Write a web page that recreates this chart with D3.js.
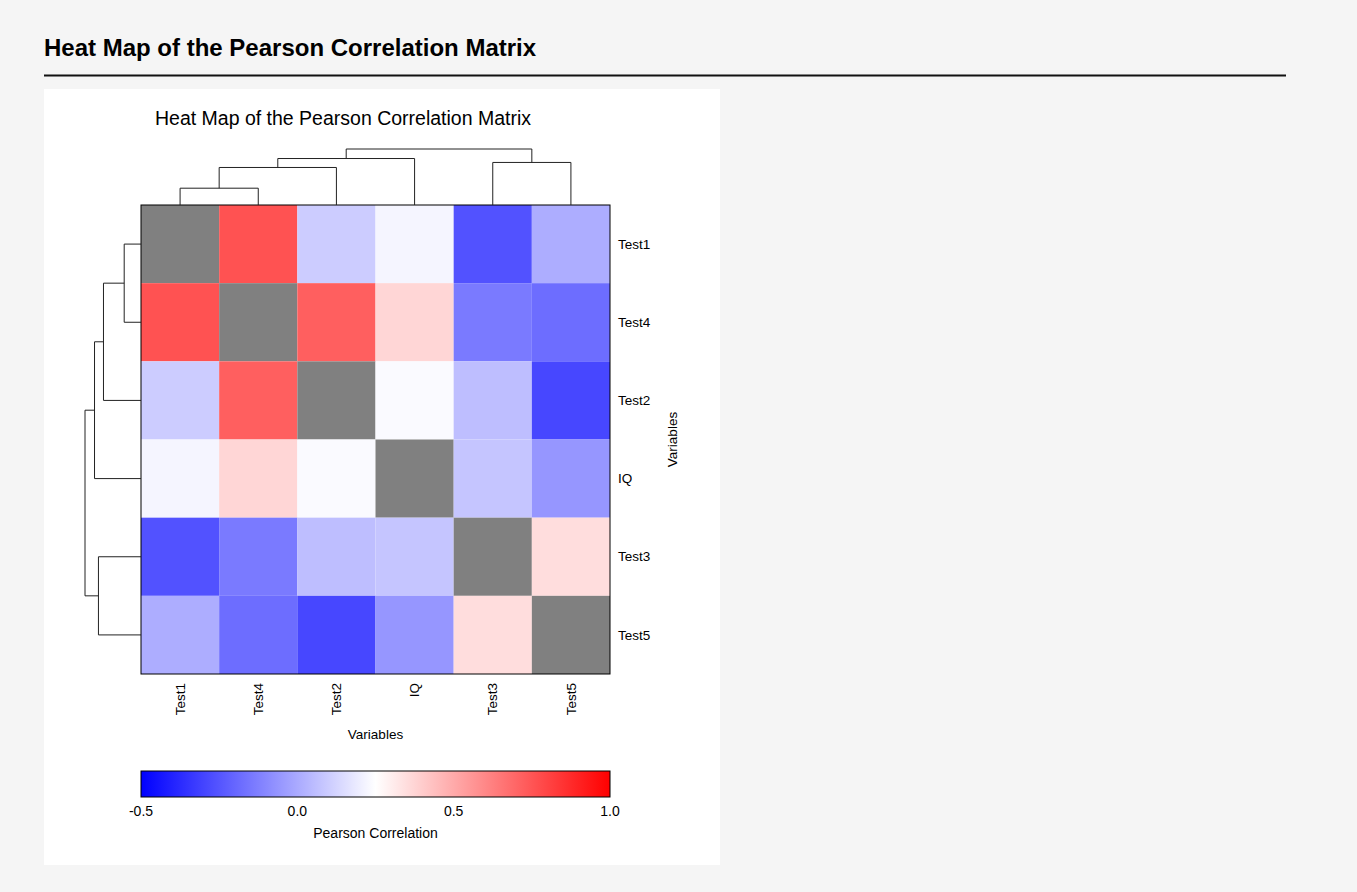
<!DOCTYPE html>
<html>
<head>
<meta charset="utf-8">
<script src="https://cdn.jsdelivr.net/npm/d3@7"></script>
<style>
  html, body { margin: 0; padding: 0; background: #f5f5f5; }
  svg { display: block; font-family: "Liberation Sans", Arial, sans-serif; }
</style>
</head>
<body>
<svg id="chart" width="1357" height="892"></svg>
<script>
// Variables in dendrogram leaf order
const variables = ["Test1", "Test4", "Test2", "IQ", "Test3", "Test5"];

// Pearson correlations (rows / columns follow `variables`); diagonal left empty
const rowTest1 = [null, 0.76, 0.10, 0.22, -0.26, 0.01];
const rowTest4 = [0.76, null, 0.72, 0.37, -0.14, -0.18];
const rowTest2 = [0.10, 0.72, null, 0.235, 0.06, -0.29];
const rowIQ    = [0.22, 0.37, 0.235, null, 0.08, -0.06];
const rowTest3 = [-0.26, -0.14, 0.06, 0.08, null, 0.35];
const rowTest5 = [0.01, -0.18, -0.29, -0.06, 0.35, null];
const correlations = [rowTest1, rowTest4, rowTest2, rowIQ, rowTest3, rowTest5];

// Hierarchical clustering merges: [left, right, name, height]
const merges = [
  ["Test1", "Test4", "c1", 0.30],
  ["c1", "Test2", "c2", 0.67],
  ["c2", "IQ", "c3", 0.83],
  ["Test3", "Test5", "c4", 0.76],
  ["c3", "c4", "root", 1.00]
];

// Colour bar ticks
const colorTicks = [-0.5, 0.0, 0.5, 1.0];

const pageTitle = "Heat Map of the Pearson Correlation Matrix";
const chartTitle = "Heat Map of the Pearson Correlation Matrix";
const axisTitle = "Variables";
const legendTitle = "Pearson Correlation";

const svg = d3.select("#chart");

// Page header
svg.append("text")
  .attr("x", 44).attr("y", 56)
  .attr("font-size", 24).attr("font-weight", "bold").attr("fill", "#000")
  .text(pageTitle);
svg.append("line")
  .attr("x1", 44).attr("x2", 1286).attr("y1", 75.5).attr("y2", 75.5)
  .attr("stroke", "#111").attr("stroke-width", 2);

// White panel
svg.append("rect")
  .attr("x", 44).attr("y", 89).attr("width", 676).attr("height", 776)
  .attr("fill", "#fff");

const hmLeft = 141, hmRight = 610, hmTop = 205, hmBottom = 674;

const x = d3.scaleBand().domain(variables).range([hmLeft, hmRight]);
const y = d3.scaleBand().domain(variables).range([hmTop, hmBottom]);
const color = d3.scaleLinear()
  .domain([-0.5, 0.25, 1.0])
  .range(["#0000ff", "#ffffff", "#ff0000"]);

// Chart title
svg.append("text")
  .attr("x", 343).attr("y", 125)
  .attr("text-anchor", "middle").attr("font-size", 19.5).attr("fill", "#000")
  .text(chartTitle);

// Heat map cells
const cells = [];
correlations.forEach((row, i) => row.forEach((v, j) => cells.push({ r: variables[i], c: variables[j], v })));
svg.append("g").selectAll("rect").data(cells).join("rect")
  .attr("x", d => x(d.c)).attr("y", d => y(d.r))
  .attr("width", x.bandwidth()).attr("height", y.bandwidth())
  .attr("fill", d => d.v === null ? "#808080" : color(d.v));

svg.append("rect")
  .attr("x", hmLeft).attr("y", hmTop).attr("width", hmRight - hmLeft).attr("height", hmBottom - hmTop)
  .attr("fill", "none").attr("stroke", "#000").attr("stroke-width", 1);

// Dendrograms
const topH = d3.scaleLinear().domain([0, 1]).range([hmTop, 149]);
const leftH = d3.scaleLinear().domain([0, 1]).range([hmLeft, 85]);

const nodes = {};
variables.forEach(v => { nodes[v] = { height: 0, leaf: true }; });
merges.forEach(([a, b, name, h]) => { nodes[name] = { a, b, height: h, leaf: false }; });

function center(name, scale) {
  const n = nodes[name];
  if (n.leaf) return scale(name) + scale.bandwidth() / 2;
  return (center(n.a, scale) + center(n.b, scale)) / 2;
}

const topG = svg.append("g").attr("fill", "none").attr("stroke", "#222").attr("stroke-width", 1);
const leftG = svg.append("g").attr("fill", "none").attr("stroke", "#222").attr("stroke-width", 1);

merges.forEach(([a, b, name, h]) => {
  const xa = center(a, x), xb = center(b, x);
  const ya = topH(nodes[a].height), yb = topH(nodes[b].height), ym = topH(h);
  topG.append("path").attr("d", `M${xa},${ya}V${ym}H${xb}V${yb}`);

  const ra = center(a, y), rb = center(b, y);
  const la = leftH(nodes[a].height), lb = leftH(nodes[b].height), lm = leftH(h);
  leftG.append("path").attr("d", `M${la},${ra}H${lm}V${rb}H${lb}`);
});

// Row labels (right)
svg.append("g").selectAll("text").data(variables).join("text")
  .attr("x", 618).attr("y", d => y(d) + y.bandwidth() / 2)
  .attr("dy", "0.35em").attr("font-size", 13.5).attr("fill", "#000")
  .text(d => d);

// Column labels (bottom, rotated)
svg.append("g").selectAll("text").data(variables).join("text")
  .attr("transform", d => `translate(${x(d) + x.bandwidth() / 2},683) rotate(-90)`)
  .attr("text-anchor", "end").attr("dy", "0.35em")
  .attr("font-size", 13.5).attr("fill", "#000")
  .text(d => d);

// Axis titles
svg.append("text")
  .attr("x", (hmLeft + hmRight) / 2).attr("y", 739)
  .attr("text-anchor", "middle").attr("font-size", 13.5).attr("fill", "#000")
  .text(axisTitle);
svg.append("text")
  .attr("transform", `translate(677,${(hmTop + hmBottom) / 2}) rotate(-90)`)
  .attr("text-anchor", "middle").attr("font-size", 13.5).attr("fill", "#000")
  .text(axisTitle);

// Colour bar
const cbTop = 771, cbH = 26;
const cbScale = d3.scaleLinear().domain([-0.5, 1.0]).range([hmLeft, hmRight]);
const defs = svg.append("defs");
const grad = defs.append("linearGradient").attr("id", "corr-grad")
  .attr("x1", "0%").attr("x2", "100%").attr("y1", "0%").attr("y2", "0%");
color.domain().forEach(v => {
  grad.append("stop")
    .attr("offset", `${(cbScale(v) - hmLeft) / (hmRight - hmLeft) * 100}%`)
    .attr("stop-color", color(v));
});
svg.append("rect")
  .attr("x", hmLeft).attr("y", cbTop).attr("width", hmRight - hmLeft).attr("height", cbH)
  .attr("fill", "url(#corr-grad)").attr("stroke", "#000").attr("stroke-width", 1);

const tickFormat = d3.formatLocale({ decimal: ".", thousands: ",", grouping: [3], currency: ["", ""], minus: "-" }).format(".1f");
svg.append("g").selectAll("text").data(colorTicks).join("text")
  .attr("x", d => cbScale(d)).attr("y", 816)
  .attr("text-anchor", "middle").attr("font-size", 14).attr("fill", "#000")
  .text(d => tickFormat(d));

svg.append("text")
  .attr("x", (hmLeft + hmRight) / 2).attr("y", 838)
  .attr("text-anchor", "middle").attr("font-size", 14).attr("fill", "#000")
  .text(legendTitle);
</script>
</body>
</html>
